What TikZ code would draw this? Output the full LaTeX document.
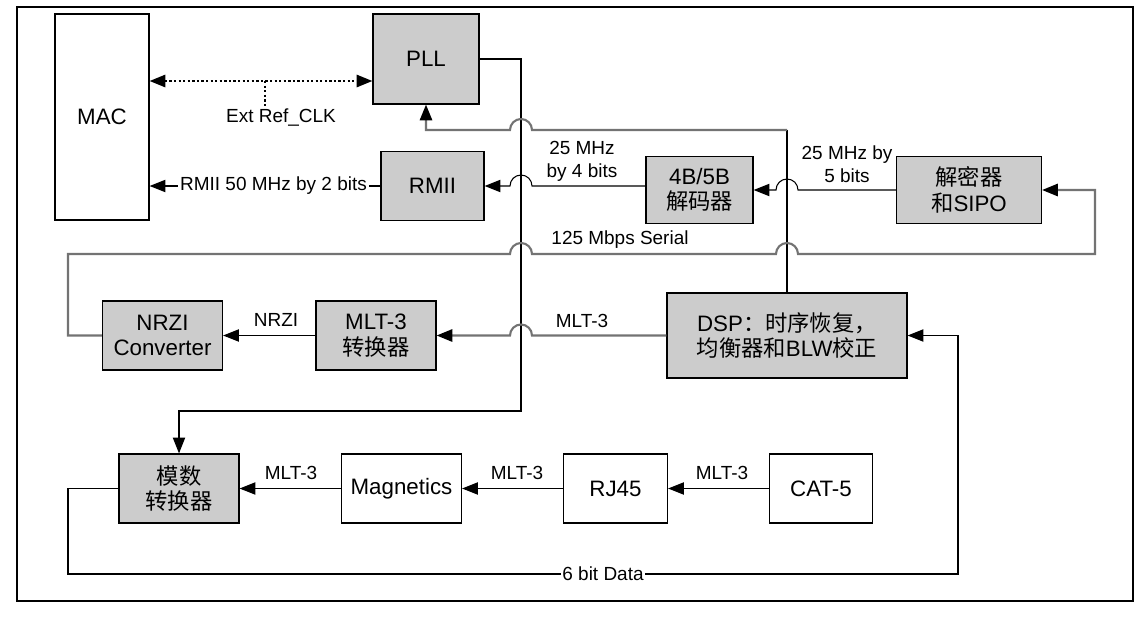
\documentclass[tikz,border=0pt]{standalone}
\usepackage{fontspec}
\setmainfont{Liberation Sans}
\newfontfamily\cjk{Noto Sans CJK SC}
\usetikzlibrary{arrows.meta,calc}

\begin{document}
\begin{tikzpicture}[x=0.02cm, y=0.02cm,
    box/.style={draw, line width=0.7pt, fill=gray!40, inner sep=0pt, align=center,
        minimum width=2.4cm, minimum height=1.38cm, font=\fontsize{12.7}{14.5}\selectfont},
    plain/.style={box, fill=white},
    lbl/.style={inner sep=1pt, align=center, font=\fontsize{10.8}{13}\selectfont},
    wire/.style={line width=0.6pt},
    gwire/.style={line width=1.2pt, draw=black!55},
    dotwire/.style={line width=1.2pt, dash pattern=on 1.3pt off 1.3pt},
    tip/.style={-{Triangle[length=9pt, width=7pt, color=black]}}]
    \useasboundingbox (0,0) rectangle (1148,-616);
    \draw[line width=0.6pt] (17,-7) rectangle (1133,-601);

    % Blocks
    \node[plain, minimum width=1.88cm, minimum height=4.12cm] (mac) at (102,-117) {MAC};
    \node[box, minimum width=2.12cm, minimum height=1.8cm] (pll) at (426,-59) {PLL};
    \node[box, minimum width=2.06cm] (rmii) at (432.5,-186) {RMII};
    \node[box, minimum width=2.14cm, minimum height=1.34cm] (dec45) at (699.5,-190) {4B/5B\\{\cjk 解码器}};
    \node[box, minimum width=2.9cm, minimum height=1.34cm] (sipo) at (969,-190) {{\cjk 解密器}\\{\cjk 和}SIPO};
    \node[box] (nrzi) at (162.5,-335.5) {NRZI\\Converter};
    \node[box] (mlt) at (376,-335.5) {MLT-3\\{\cjk 转换器}};
    \node[box, minimum width=4.8cm, minimum height=1.7cm] (dsp) at (787,-335.5) {DSP{\cjk ：时序恢复，}\\{\cjk 均衡器和}BLW{\cjk 校正}};
    \node[box] (adc) at (179,-488.5) {{\cjk 模数}\\{\cjk 转换器}};
    \node[plain] (mag) at (401.5,-488.5) {Magnetics};
    \node[plain, minimum width=2.08cm] (rj) at (615.5,-488.5) {RJ45};
    \node[plain, minimum width=2.06cm] (cat) at (821,-488.5) {CAT-5};

    % Crossing lines and corners
    \coordinate (vx) at (521,0);
    \coordinate (cx) at (787,0);
    \coordinate (ref) at (265,-81);
    \coordinate (fb) at (787,-130);
    \coordinate (ser) at (68,-254);
    \coordinate (serr) at (1095,-254);
    \coordinate (dat) at (68,-574);
    \coordinate (datr) at (958,-574);

    % Reference clock
    \node[lbl] (extclk) at (281,-118) {Ext Ref\_CLK};
    \draw[dotwire, {Triangle[length=9pt, width=7pt]}-{Triangle[length=9pt, width=7pt]}] (ref -| mac.east) -- (ref -| pll.west);
    \draw[dotwire] (ref) -- (ref |- extclk.north);

    % PLL clock down to the ADC
    \draw[wire, tip] (pll.east) -| (521,-411) -| (adc.north);

    % Recovered clock back to the PLL
    \draw[wire] (dsp.north) -- (fb);
    \draw[gwire, tip] (fb) -- ($(vx |- fb)+(11,0)$) arc[start angle=0, end angle=180, radius=11] -| (pll.south);

    % Receive data path
    \draw[wire, tip] (dec45.west |- rmii.east) -- ($(vx |- rmii.east)+(11,0)$) arc[start angle=0, end angle=180, radius=11] -- (rmii.east);
    \draw[wire, tip] (sipo.west) -- ($(cx |- sipo.west)+(11,0)$) arc[start angle=0, end angle=180, radius=11] -- (dec45.east);
    \draw[gwire, tip] (nrzi.west) -| (ser) -- ($(vx |- ser)-(11,0)$) arc[start angle=180, end angle=0, radius=11]
        -- ($(cx |- ser)-(11,0)$) arc[start angle=180, end angle=0, radius=11] -- (serr) |- (sipo.east);
    \draw[gwire, tip] (dsp.west) -- ($(vx |- dsp.west)+(11,0)$) arc[start angle=0, end angle=180, radius=11] -- (mlt.east);
    \draw[wire, tip] (mlt.west) -- (nrzi.east);
    \draw[wire, tip] (rmii.west) -- (rmii.west -| mac.east);

    % Line side
    \draw[wire, tip] (cat.west) -- (rj.east);
    \draw[wire, tip] (rj.west) -- (mag.east);
    \draw[wire, tip] (mag.west) -- (adc.east);
    \draw[wire, tip] (adc.west) -| (dat) -- (datr) |- (dsp.east);

    % Labels
    \node[lbl] at (582,-161) {25 MHz\\by 4 bits};
    \node[lbl] at (847,-164) {25 MHz by\\5 bits};
    \node[lbl] at (620,-240) {125 Mbps Serial};
    \node[lbl] at (582,-321) {MLT-3};
    \node[lbl] at (276,-320) {NRZI};
    \node[lbl] at (291,-473) {MLT-3};
    \node[lbl] at (517,-473) {MLT-3};
    \node[lbl] at (722,-473) {MLT-3};
    \node[lbl, fill=white] at (273.5,-186) {RMII 50 MHz by 2 bits};
    \node[lbl, fill=white] at (603,-574) {6 bit Data};
\end{tikzpicture}
\end{document}
